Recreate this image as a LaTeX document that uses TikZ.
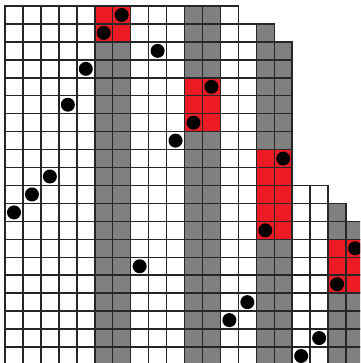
\documentclass[tikz,border=0pt]{standalone}
\usepackage{tikz}

\definecolor{permred}{RGB}{237,28,36}
\definecolor{permgray}{RGB}{128,128,128}

\begin{document}
\begin{tikzpicture}[
  x=5mm, y=5mm,
  cell/.style={draw=black!85, line width=1.2pt},
  graycol/.style={fill=permgray},
  redblock/.style={fill=permred},
  dot/.style={fill=black}
]
\useasboundingbox (-0.28,0.334) rectangle (19.78,-19.89);
\clip (-0.28,0.334) rectangle (19.78,-19.89);

% gray columns, column/first row
\foreach \c/\s in {5/2,6/2,10/0,11/0,14/1,15/2,18/11,19/12}
  \fill[graycol] (\c,-\s) rectangle (\c+1,-20);

% red blocks
\fill[redblock] (5,0) rectangle (7,-2);
\fill[redblock] (10,-4) rectangle (12,-7);
\fill[redblock] (14,-8) rectangle (16,-13);
\fill[redblock] (18,-13) rectangle (20,-16);

% grid, column/first row
\foreach \c/\s in {0/0,1/0,2/0,3/0,4/0,5/0,6/0,7/0,8/0,9/0,10/0,11/0,12/0,
                   13/1,14/1,15/2,16/10,17/10,18/11,19/12}
  \foreach \r in {\s,...,19}
    \draw[cell] (\c,-\r) rectangle ++(1,-1);

% dots, row/column
\foreach \r/\c in {0/6,1/5,2/8,3/4,4/11,5/3,6/10,7/9,8/15,9/2,
                   10/1,11/0,12/14,13/19,14/7,15/18,16/13,17/12,18/17,19/16}
  \fill[dot] (\c+0.5,-\r-0.5) circle (0.39);
\end{tikzpicture}
\end{document}
